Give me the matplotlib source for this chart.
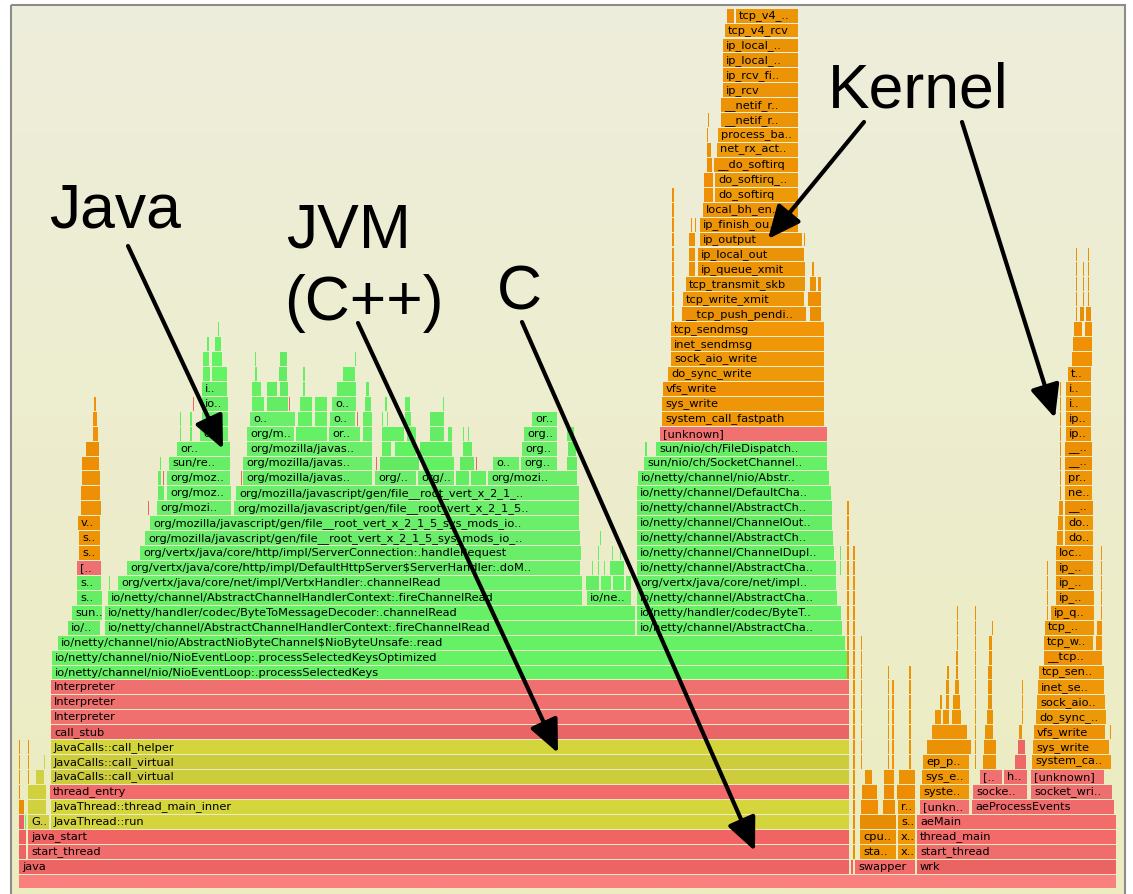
import matplotlib
matplotlib.use("Agg")
import matplotlib.pyplot as plt
from matplotlib.patches import Rectangle
import numpy as np

# ---------------------------------------------------------------------------
# Flame graph frames: (depth, first sample, sample count, label, frame type)
# frame types: a = root, c = C, p = C++ (JVM), j = Java, k = kernel
# ---------------------------------------------------------------------------
thread_frames = [
    (0, 0, 1098, "", "a"),
    (1, 0, 831, "java", "c"), (1, 832, 3, "", "c"),
    (1, 836, 61, "swapper", "c"), (1, 898, 200, "wrk", "c"),
    (2, 0, 8, "", "c"), (2, 9, 822, "start_thread", "c"),
    (3, 0, 8, "", "c"), (3, 9, 822, "java_start", "c"),
    (4, 0, 6, "", "c"), (4, 6, 2, "", "j"), (4, 9, 22, "G..", "p"),
    (4, 32, 799, "JavaThread::run", "p"),
    (5, 0, 6, "", "k"), (5, 9, 19, "", "p"),
    (5, 32, 799, "JavaThread::thread_main_inner", "p"),
    (6, 0, 1, "", "k"), (6, 9, 19, "", "p"), (6, 31, 800, "thread_entry", "c"),
    (7, 0, 1, "", "k"), (7, 9, 1, "", "k"), (7, 17, 9, "", "p"),
    (7, 32, 799, "JavaCalls::call_virtual", "p"),
    (8, 0, 1, "", "k"), (8, 9, 1, "", "k"), (8, 25, 2, "", "p"),
    (8, 32, 799, "JavaCalls::call_virtual", "p"),
    (9, 0, 1, "", "k"), (9, 9, 1, "", "k"),
    (9, 32, 799, "JavaCalls::call_helper", "p"),
    (10, 32, 799, "call_stub", "c"),
    (11, 32, 799, "Interpreter", "c"),
    (12, 32, 799, "Interpreter", "c"),
    (13, 32, 799, "Interpreter", "c"),
    (14, 33, 796, "io/netty/channel/nio/NioEventLoop:.processSelectedKeys", "j"),
    (15, 33, 796, "io/netty/channel/nio/NioEventLoop:.processSelectedKeysOptimized", "j"),
    (16, 39, 788, "io/netty/channel/nio/AbstractNioByteChannel$NioByteUnsafe:.read", "j"),
]

swapper_frames = [
    (2, 841, 37, "sta..", "k"), (2, 879, 18, "x..", "k"),
    (3, 841, 37, "cpu..", "k"), (3, 879, 18, "x..", "k"),
    (4, 841, 37, "", "k"), (4, 879, 18, "s..", "k"),
    (5, 842, 18, "", "k"), (5, 864, 13, "", "k"), (5, 879, 18, "r..", "k"),
    (6, 843, 16, "", "k"), (6, 865, 11, "", "k"), (6, 878, 19, "", "k"),
    (7, 846, 8, "", "k"), (7, 865, 11, "", "k"), (7, 880, 17, "", "k"),
]

wrk_frames = [
    (2, 898, 200, "start_thread", "c"),
    (3, 898, 200, "thread_main", "c"),
    (4, 898, 200, "aeMain", "c"),
    (5, 901, 50, "[unkn..", "c"), (5, 953, 143, "aeProcessEvents", "c"),
    (6, 901, 50, "syste..", "k"), (6, 954, 55, "socke..", "c"),
    (6, 1012, 82, "socket_wri..", "c"),
    (7, 903, 48, "sys_e..", "k"), (7, 961, 23, "[..", "c"), (7, 985, 24, "h..", "c"),
    (7, 1012, 74, "[unknown]", "c"),
    (8, 904, 47, "ep_p..", "k"), (8, 964, 14, "", "k"), (8, 996, 12, "", "c"),
    (8, 1013, 80, "system_ca..", "k"),
    (9, 908, 45, "", "k"), (9, 965, 13, "", "k"), (9, 999, 8, "", "c"),
    (9, 1014, 77, "sys_write", "k"),
    (10, 913, 36, "", "k"), (10, 966, 9, "", "k"), (10, 1000, 4, "", "k"),
    (10, 1015, 72, "vfs_write", "k"), (10, 1091, 2, "", "k"),
    (11, 916, 7, "", "k"), (11, 924, 7, "", "k"), (11, 933, 10, "", "k"),
    (11, 968, 7, "", "k"), (11, 1017, 71, "do_sync_..", "k"),
    (12, 921, 3, "", "k"), (12, 927, 4, "", "k"), (12, 934, 8, "", "k"),
    (12, 969, 5, "", "k"), (12, 1018, 69, "sock_aio..", "k"),
    (13, 927, 4, "", "k"), (13, 936, 5, "", "k"), (13, 969, 5, "", "k"),
    (13, 1019, 67, "inet_se..", "k"),
    (14, 928, 3, "", "k"), (14, 937, 3, "", "k"), (14, 969, 5, "", "k"),
    (14, 1020, 66, "tcp_sen..", "k"),
    (15, 937, 3, "", "k"), (15, 970, 4, "", "k"), (15, 1025, 59, "__tcp..", "k"),
    (16, 938, 2, "", "k"), (16, 970, 4, "", "k"),
    (16, 1025, 50, "tcp_w..", "k"), (16, 1077, 7, "", "k"),
    (17, 973, 2, "", "k"), (17, 1026, 50, "tcp_..", "k"), (17, 1078, 6, "", "k"),
    (18, 1032, 44, "ip_q..", "k"),
    (19, 1037, 39, "ip_..", "k"),
    (20, 1037, 38, "ip_..", "k"),
    (21, 1037, 38, "ip_..", "k"),
    (22, 1037, 38, "loc..", "k"),
    (23, 1038, 7, "", "k"), (23, 1046, 29, "do..", "k"),
    (24, 1039, 6, "", "k"), (24, 1046, 29, "do..", "k"),
    (25, 1040, 5, "", "k"), (25, 1046, 29, "__..", "k"),
    (26, 1046, 28, "ne..", "k"),
    (27, 1046, 28, "pr..", "k"),
    (28, 1046, 28, "__..", "k"),
    (29, 1046, 28, "__..", "k"),
    (30, 1047, 26, "ip..", "k"),
    (31, 1047, 26, "ip..", "k"),
    (32, 1047, 26, "i..", "k"),
    (33, 1047, 26, "i..", "k"),
    (34, 1049, 24, "t..", "k"),
    (35, 1053, 21, "", "k"),
    (36, 1054, 20, "", "k"),
    (37, 1055, 9, "", "k"), (37, 1066, 8, "", "k"),
    (38, 1057, 1, "", "k"), (38, 1061, 5, "", "k"), (38, 1067, 6, "", "k"),
]

side_frames = [
    (17, 49, 33, "io/..", "j"),
    (18, 53, 31, "sun..", "j"),
    (19, 58, 26, "s..", "j"),
    (20, 58, 25, "s..", "j"),
    (21, 58, 25, "[..", "c"),
    (22, 60, 22, "s..", "k"),
    (23, 60, 22, "s..", "k"),
    (24, 59, 23, "v..", "k"),
    (25, 62, 21, "", "k"),
    (26, 62, 20, "", "k"),
    (27, 63, 19, "", "k"),
    (28, 63, 18, "", "k"),
    (29, 67, 14, "", "k"),
    (30, 74, 6, "", "k"),
    (31, 74, 5, "", "k"),
    (32, 75, 3, "", "k"),
]

java_frames = [
    (17, 86, 531, "io/netty/channel/AbstractChannelHandlerContext:.fireChannelRead", "j"),
    (18, 86, 531, "io/netty/handler/codec/ByteToMessageDecoder:.channelRead", "j"),
    (19, 89, 475, "io/netty/channel/AbstractChannelHandlerContext:.fireChannelRead", "j"),
    (19, 568, 45, "io/ne..", "j"),
    (20, 90, 2, "", "j"),
    (20, 99, 465, "org/vertx/java/core/net/impl/VertxHandler:.channelRead", "j"),
    (20, 567, 14, "", "j"), (20, 582, 11, "", "j"), (20, 594, 12, "", "j"), (20, 607, 6, "", "j"),
    (21, 108, 454, "org/vertx/java/core/http/impl/DefaultHttpServer$ServerHandler:.doM..", "j"),
    (21, 573, 2, "", "j"), (21, 579, 2, "", "j"), (21, 585, 2, "", "j"), (21, 591, 15, "", "j"),
    (22, 121, 442, "org/vertx/java/core/http/impl/ServerConnection:.handleRequest", "j"),
    (22, 579, 2, "", "j"), (22, 593, 2, "", "j"), (22, 601, 2, "", "j"),
    (23, 126, 436, "org/mozilla/javascript/gen/file__root_vert_x_2_1_5_sys_mods_io_..", "j"),
    (23, 581, 2, "", "j"),
    (24, 131, 430, "org/mozilla/javascript/gen/file__root_vert_x_2_1_5_sys_mods_io..", "j"),
    (25, 129, 2, "", "c"), (25, 138, 75, "org/mozi..", "j"),
    (25, 215, 346, "org/mozilla/javascript/gen/file__root_vert_x_2_1_5..", "j"),
    (26, 139, 7, "", "j"), (26, 148, 65, "org/moz..", "j"),
    (26, 217, 344, "org/mozilla/javascript/gen/file__root_vert_x_2_1_..", "j"),
    (27, 139, 4, "", "j"), (27, 144, 2, "", "c"), (27, 148, 64, "org/moz..", "j"),
    (27, 222, 2, "", "c"), (27, 224, 130, "org/mozilla/javas..", "j"),
    (27, 356, 42, "org/..", "j"), (27, 399, 37, "org/..", "j"),
    (27, 437, 14, "", "j"), (27, 452, 16, "", "j"), (27, 469, 90, "org/mozi..", "j"),
    (28, 141, 1, "", "j"), (28, 150, 62, "sun/re..", "j"),
    (28, 224, 130, "org/mozilla/javas..", "j"), (28, 357, 2, "", "c"),
    (28, 361, 40, "", "j"), (28, 404, 32, "", "j"), (28, 441, 15, "", "j"),
    (28, 457, 2, "", "c"), (28, 474, 27, "o..", "j"), (28, 502, 37, "org..", "j"),
    (28, 548, 11, "", "j"),
    (29, 158, 54, "or..", "j"), (29, 228, 126, "org/mozilla/javas..", "j"),
    (29, 363, 10, "", "j"), (29, 376, 22, "", "j"), (29, 401, 33, "", "j"),
    (29, 444, 10, "", "j"), (29, 503, 36, "org..", "j"), (29, 549, 9, "", "j"),
    (30, 161, 2, "", "j"), (30, 171, 3, "", "j"), (30, 181, 29, "or..", "j"),
    (30, 228, 48, "org/m..", "j"), (30, 277, 32, "", "j"), (30, 310, 32, "or..", "j"),
    (30, 344, 10, "", "j"), (30, 363, 23, "", "j"), (30, 388, 10, "", "j"),
    (30, 411, 15, "", "j"), (30, 429, 5, "", "j"), (30, 444, 2, "", "j"),
    (30, 449, 2, "", "j"), (30, 505, 34, "org..", "j"), (30, 548, 8, "", "j"),
    (31, 161, 2, "", "j"), (31, 171, 3, "", "j"), (31, 183, 27, "or..", "j"),
    (31, 231, 46, "o..", "j"), (31, 279, 15, "", "j"), (31, 296, 13, "", "j"),
    (31, 311, 26, "o..", "j"), (31, 338, 1, "", "c"), (31, 344, 10, "", "j"),
    (31, 363, 2, "", "j"), (31, 368, 2, "", "j"), (31, 386, 7, "", "j"),
    (31, 411, 15, "", "j"), (31, 513, 26, "or..", "j"),
    (32, 174, 1, "", "c"), (32, 183, 27, "io..", "j"), (32, 233, 13, "", "j"),
    (32, 248, 22, "", "j"), (32, 270, 1, "", "c"), (32, 281, 13, "", "j"),
    (32, 296, 13, "", "j"), (32, 313, 25, "o..", "j"), (32, 346, 7, "", "j"),
    (32, 366, 3, "", "j"), (32, 386, 6, "", "j"), (32, 424, 2, "", "j"),
    (33, 183, 26, "i..", "j"), (33, 233, 10, "", "j"), (33, 248, 11, "", "j"),
    (33, 261, 9, "", "j"), (33, 284, 3, "", "j"), (33, 318, 20, "", "j"),
    (33, 347, 4, "", "j"),
    (34, 184, 8, "", "j"), (34, 193, 16, "", "j"), (34, 236, 3, "", "j"),
    (34, 260, 9, "", "j"), (34, 284, 3, "", "j"), (34, 324, 13, "", "j"),
    (35, 184, 7, "", "j"), (35, 193, 11, "", "j"), (35, 236, 2, "", "j"),
    (35, 261, 8, "", "j"), (35, 336, 1, "", "j"),
    (36, 188, 3, "", "j"), (36, 196, 7, "", "j"),
    (37, 199, 2, "", "j"),
]

write_frames = [
    (17, 618, 206, "io/netty/channel/AbstractCha..", "j"),
    (18, 618, 205, "io/netty/handler/codec/ByteT..", "j"),
    (19, 618, 201, "io/netty/channel/AbstractCha..", "j"),
    (20, 618, 200, "org/vertx/java/core/net/impl..", "j"),
    (21, 618, 200, "io/netty/channel/AbstractCha..", "j"),
    (22, 618, 198, "io/netty/channel/ChannelDupl..", "j"),
    (23, 618, 197, "io/netty/channel/AbstractCh..", "j"),
    (24, 618, 196, "io/netty/channel/ChannelOut..", "j"),
    (25, 618, 196, "io/netty/channel/AbstractCh..", "j"),
    (26, 618, 195, "io/netty/channel/DefaultCha..", "j"),
    (27, 619, 192, "io/netty/channel/nio/Abstr..", "j"),
    (28, 625, 184, "sun/nio/ch/SocketChannel..", "j"),
    (29, 626, 3, "", "j"), (29, 637, 172, "sun/nio/ch/FileDispatch..", "j"),
    (30, 641, 168, "[unknown]", "c"),
    (31, 643, 163, "system_call_fastpath", "k"),
    (32, 643, 163, "sys_write", "k"),
    (33, 644, 162, "vfs_write", "k"),
    (34, 649, 157, "do_sync_write", "k"),
    (35, 652, 154, "sock_aio_write", "k"),
    (36, 652, 154, "inet_sendmsg", "k"),
    (37, 652, 154, "tcp_sendmsg", "k"),
    (38, 663, 125, "__tcp_push_pendi..", "k"), (38, 791, 12, "", "k"),
    (39, 664, 122, "tcp_write_xmit", "k"), (39, 789, 14, "", "k"),
    (40, 667, 120, "tcp_transmit_skb", "k"), (40, 791, 7, "", "k"), (40, 799, 4, "", "k"),
    (41, 670, 7, "", "k"), (41, 679, 108, "ip_queue_xmit", "k"), (41, 793, 3, "", "k"),
    (42, 670, 7, "", "k"), (42, 679, 107, "ip_local_out", "k"),
    (43, 670, 7, "", "k"), (43, 681, 103, "ip_output", "k"), (43, 785, 1, "", "k"),
    (44, 672, 2, "", "k"), (44, 676, 2, "", "k"), (44, 681, 99, "ip_finish_ou..", "k"),
    (45, 684, 96, "local_bh_en..", "k"),
    (46, 685, 10, "", "k"), (46, 696, 84, "do_softirq", "k"),
    (47, 685, 10, "", "k"), (47, 696, 84, "do_softirq_..", "k"),
    (48, 688, 6, "", "k"), (48, 695, 85, "__do_softirq", "k"),
    (49, 688, 5, "", "k"), (49, 698, 82, "net_rx_act..", "k"),
    (50, 688, 2, "", "k"), (50, 699, 81, "process_ba..", "k"),
    (51, 689, 1, "", "k"), (51, 702, 78, "__netif_r..", "k"),
    (52, 702, 78, "__netif_r..", "k"),
    (53, 704, 76, "ip_rcv", "k"),
    (54, 704, 76, "ip_rcv_fi..", "k"),
    (55, 704, 76, "ip_local_..", "k"),
    (56, 704, 76, "ip_local_..", "k"),
    (57, 706, 74, "tcp_v4_rcv", "k"),
    (58, 708, 8, "", "k"), (58, 717, 63, "tcp_v4_..", "k"),
]

# narrow stacks: (first sample, sample count, lowest depth, highest depth, frame type)
narrow_stacks = [
    (828, 3, 14, 25, "k"), (834, 3, 2, 22, "k"), (821, 2, 21, 22, "j"),
    (842, 2, 8, 16, "k"), (869, 2, 8, 14, "k"), (873, 3, 8, 13, "k"),
    (890, 3, 8, 14, "k"), (938, 2, 17, 18, "k"), (956, 2, 8, 18, "k"),
    (1003, 2, 11, 13, "k"), (1028, 2, 18, 21, "k"), (1041, 2, 26, 33, "k"),
    (1082, 2, 18, 22, "k"), (1057, 1, 39, 42, "k"), (1064, 1, 39, 41, "k"),
    (1069, 1, 39, 42, "k"), (653, 3, 38, 46, "k"),
]

callouts = ["Java", "JVM", "(C++)", "C", "Kernel"]


def name_hash(name):
    vector, weight, vmax, mod = 0.0, 1.0, 1.0, 10
    for ch in name:
        i = ord(ch) % mod
        vector += (i / (mod - 1)) * weight
        mod += 1
        vmax += weight
        weight *= 0.70
        if mod > 12:
            break
    return 1.0 - vector / vmax


def frame_color(kind, key):
    v = name_hash(key)
    w = name_hash(key[::-1])
    if kind == "a":
        return (250 / 255, 128 / 255, 128 / 255)
    if kind == "j":
        r = 78 + 36 * v
        g = 228 + 16 * w
        return (r / 255, g / 255, r / 255)
    if kind == "p":
        r = 194 + 24 * w
        return (r / 255, r / 255, (52 + 18 * v) / 255)
    if kind == "c":
        r = 222 + 26 * w
        g = 84 + 36 * v
        return (r / 255, g / 255, g / 255)
    # kernel
    r = 220 + 26 * w
    g = 128 + 30 * v
    return (r / 255, g / 255, (10 * v) / 255)


W, H = 1133, 894
fig = plt.figure(figsize=(W / 100, H / 100), dpi=100)
fig.patch.set_facecolor("white")

# background panel in pixel coordinates
bg = fig.add_axes([0, 0, 1, 1], zorder=0)
bg.set_xlim(0, W)
bg.set_ylim(H, 0)
bg.axis("off")
grad = np.linspace(0, 1, 256)[:, None]
c_top = np.array([238, 238, 220]) / 255
c_bot = np.array([236, 236, 192]) / 255
img = c_top[None, None, :] * (1 - grad[:, :, None]) + c_bot[None, None, :] * grad[:, :, None]
bg.imshow(img, extent=[11, 1125, H, 5], aspect="auto", interpolation="bilinear")
bg.add_patch(Rectangle((11, 5), 1114, H, fill=False, edgecolor="#8c8c8c", lw=1.5))

# flame graph axes: x in samples, y in stack depth
fa = fig.add_axes([0, 0, 1, 1], zorder=1)
fa.patch.set_alpha(0)
fa.set_xlim(-19, W - 19)
fa.set_ylim(-0.335, 59.544)
fa.axis("off")

frames = thread_frames + swapper_frames + wrk_frames + side_frames + java_frames + write_frames
for start, count, lo, hi, kind in narrow_stacks:
    for d in range(lo, hi + 1):
        frames.append((d, start, count, "", kind))

for depth, start, count, label, kind in frames:
    key = label if label else f"{kind}{depth}:{start}"
    fa.add_patch(Rectangle((start, depth + 0.035), max(count - 0.6, 0.8), 0.93,
                           facecolor=frame_color(kind, key), edgecolor="none"))
    if label:
        fa.text(start + 3, depth + 0.5, label, fontsize=8.2, family="DejaVu Sans",
                color="black", va="center", ha="left")

# callout labels and arrows in pixel coordinates
ov = fig.add_axes([0, 0, 1, 1], zorder=2)
ov.patch.set_alpha(0)
ov.set_xlim(0, W)
ov.set_ylim(H, 0)
ov.axis("off")

font = dict(family="Liberation Sans", fontsize=45, color="black", ha="left", va="baseline")
ov.text(49, 228, callouts[0], **font)
ov.text(286, 248, callouts[1], **font)
ov.text(284, 320, callouts[2], **font)
ov.text(497, 309, callouts[3], **font)
ov.text(828, 108, callouts[4], **font)

arrows = [((128, 246), (223, 449)), ((358, 323), (558, 753)), ((522, 322), (755, 851)),
          ((864, 122), (768, 239)), ((962, 122), (1055, 418))]
for (x0, y0), (x1, y1) in arrows:
    ov.annotate("", xy=(x1, y1), xytext=(x0, y0),
                arrowprops=dict(arrowstyle="-|>,head_length=20,head_width=9",
                                mutation_scale=1, lw=3, color="black",
                                shrinkA=0, shrinkB=0))

fig.savefig("out.png", dpi=100)
